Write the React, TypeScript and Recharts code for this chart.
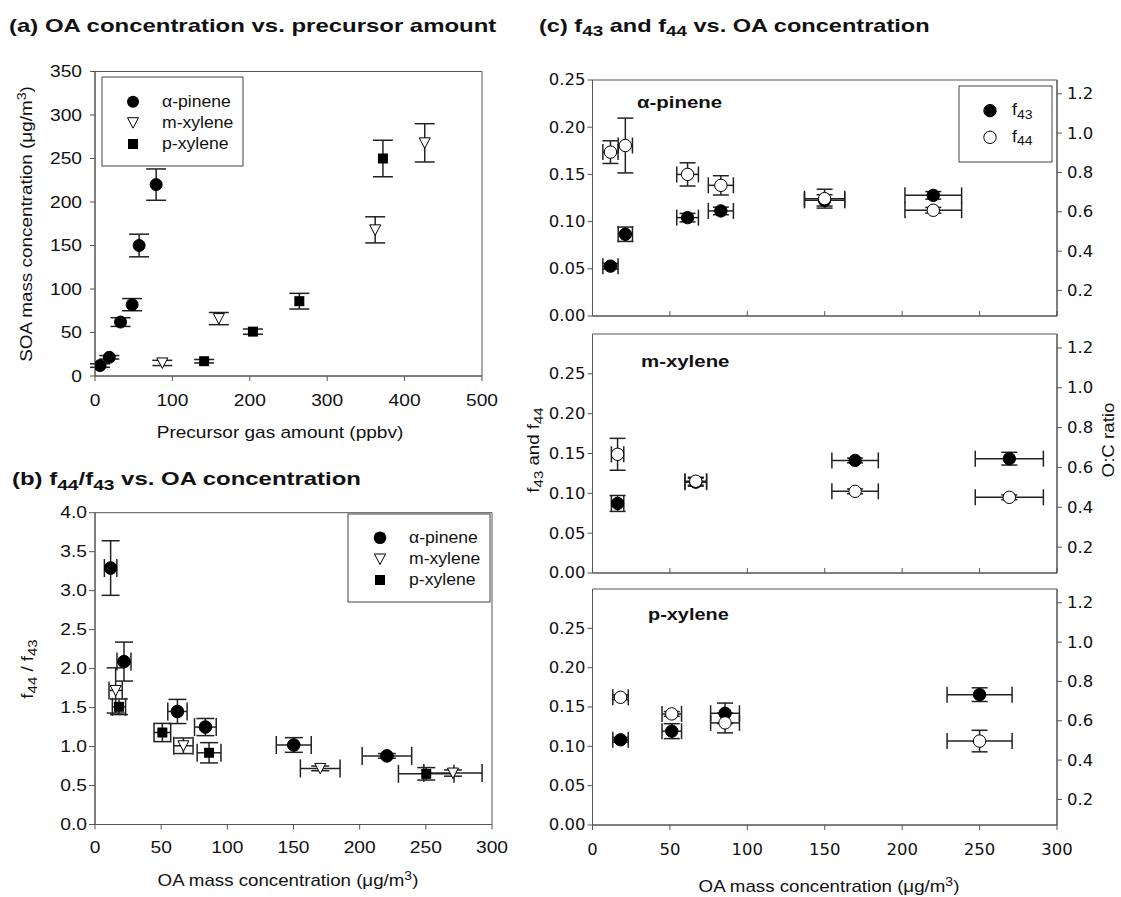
import React from 'react';
import { ScatterChart, Scatter, XAxis, YAxis, ErrorBar, ReferenceArea } from 'recharts';

const FONT = '"Liberation Sans", Arial, Helvetica, sans-serif';
const FONT_C = '"DejaVu Sans", Verdana, sans-serif';
const AXIS = '#555';
const INK = '#111';

// ---------- Panel (a): OA concentration vs precursor amount ----------
const aPineneX = [6.5, 18.5, 33, 48, 57, 79];
const aPineneY = [12, 21.5, 62, 82, 150, 220];
const aPineneErr = [2, 2, 5, 7, 13, 18];
const mXyleneX = [87, 160, 362, 426];
const mXyleneY = [15, 66, 168, 268];
const mXyleneErr = [3, 7, 15, 22];
const pXyleneX = [141, 204, 264, 372];
const pXyleneY = [17, 51, 86, 250];
const pXyleneErr = [2, 3, 9, 21];
const aXTicks = [0, 100, 200, 300, 400, 500];
const aYTicks = [0, 50, 100, 150, 200, 250, 300, 350];

// ---------- Panel (b): f44/f43 vs OA concentration ----------
const bPineneX = [11.8, 21.9, 62.3, 83.4, 150.2, 220.6];
const bPineneY = [3.29, 2.09, 1.45, 1.25, 1.02, 0.88];
const bPineneEx = [4.7, 5.3, 7.3, 8.2, 13.2, 18.7];
const bPineneEy = [0.35, 0.25, 0.155, 0.11, 0.094, 0.03];
const bMXyleneX = [15.6, 66.8, 170.2, 270.5];
const bMXyleneY = [1.72, 1.01, 0.72, 0.66];
const bMXyleneEx = [5, 7.3, 15, 22];
const bMXyleneEy = [0.29, 0.1, 0.03, 0.04];
const bPXyleneX = [18.1, 50.9, 86.2, 250.3];
const bPXyleneY = [1.51, 1.18, 0.92, 0.65];
const bPXyleneEx = [5, 6.3, 9, 21];
const bPXyleneEy = [0.1, 0.117, 0.13, 0.08];
const bXTicks = [0, 50, 100, 150, 200, 250, 300];
const bYTicks = [0, 0.5, 1, 1.5, 2, 2.5, 3, 3.5, 4];

// ---------- Panel (c): f43 and f44 vs OA concentration ----------
const cPineneX = [11.6, 21.2, 61.4, 82.9, 149.9, 220.1];
const cPineneEx = [4.9, 4.6, 7, 8.1, 13, 18.3];
const cPineneF43 = [0.0528, 0.0866, 0.1042, 0.1113, 0.1225, 0.1278];
const cPineneF43Err = [0.003, 0.0076, 0.0045, 0.004, 0.006, 0.004];
const cPineneF44 = [0.1736, 0.1806, 0.15, 0.1384, 0.1243, 0.112];
const cPineneF44Err = [0.012, 0.029, 0.0123, 0.0102, 0.01, 0.003];

const cMXyleneX = [16.2, 66.7, 169.6, 269.2];
const cMXyleneEx = [4, 7, 15, 22];
const cMXyleneF43 = [0.0873, 0.114, 0.1413, 0.1435];
const cMXyleneF43Err = [0.01, 0.005, 0.003, 0.008];
const cMXyleneF44 = [0.149, 0.1152, 0.1025, 0.095];
const cMXyleneF44Err = [0.02, 0.005, 0.003, 0.003];

const cPXyleneX = [18.1, 51.2, 85.6, 250];
const cPXyleneEx = [5, 6.3, 9.3, 21];
const cPXyleneF43 = [0.1083, 0.1193, 0.142, 0.1657];
const cPXyleneF43Err = [0.003, 0.0095, 0.013, 0.0087];
const cPXyleneF44 = [0.1623, 0.1412, 0.1298, 0.1067];
const cPXyleneF44Err = [0.003, 0.003, 0.0127, 0.0137];

const cXTicks = [0, 50, 100, 150, 200, 250, 300];
const cYTicks = [0, 0.05, 0.1, 0.15, 0.2, 0.25];
const ocTicks = [0.2, 0.4, 0.6, 0.8, 1.0, 1.2];

const rows = (x: number[], y: number[], ey: number[], ex?: number[]) =>
  x.map((v, i) => ({ x: v, y: y[i], ey: ey[i], ex: ex ? ex[i] : 0 }));

// ---------- marker shapes ----------
const Dot = (r: number, fill: string) => (p: any) => (
  <circle cx={p.cx} cy={p.cy} r={r} fill={fill} stroke="#000" strokeWidth={1} />
);
const Tri = (p: any) => (
  <polygon
    points={`${p.cx - 5.5},${p.cy - 5} ${p.cx + 5.5},${p.cy - 5} ${p.cx},${p.cy + 5.5}`}
    fill="#fff"
    stroke="#000"
    strokeWidth={1}
  />
);
const Sq = (p: any) => <rect x={p.cx - 5} y={p.cy - 5} width={10} height={10} fill="#000" />;

// ---------- tick renderer ----------
const mkTick = (fs: number, sx: number, dy: number, digits: number, family = FONT) => (props: any) => {
  const { x, y, payload, textAnchor } = props;
  return (
    <text
      transform={`translate(${x},${y}) scale(${sx},1)`}
      x={0}
      y={0}
      dy={dy}
      textAnchor={textAnchor}
      fontSize={fs}
      fontFamily={family}
      fill={INK}
    >
      {Number(payload.value).toFixed(digits)}
    </text>
  );
};
const noTick = () => <g />;

// ---------- HTML text helper ----------
const Sub = ({ children }: any) => (
  <span style={{ fontSize: '0.8em', position: 'relative', top: '0.3em' }}>{children}</span>
);
const Sup = ({ children }: any) => (
  <span style={{ fontSize: '0.75em', position: 'relative', top: '-0.45em' }}>{children}</span>
);

function Txt({ x, y, children, fs = 17, bold = false, anchor = 'middle', rotate = false, sx = 1.12 }: any) {
  const tx = anchor === 'start' ? '0' : anchor === 'end' ? '-100%' : '-50%';
  const origin = anchor === 'start' ? 'left center' : anchor === 'end' ? 'right center' : 'center';
  const transform = rotate
    ? `translate(-50%,-50%) rotate(-90deg) scaleX(${sx})`
    : `translate(${tx},-50%) scaleX(${sx})`;
  return (
    <div
      style={{
        position: 'absolute',
        left: x,
        top: y,
        whiteSpace: 'nowrap',
        fontFamily: FONT,
        fontSize: fs,
        fontWeight: bold ? 'bold' : 'normal',
        lineHeight: 1,
        transform,
        transformOrigin: rotate ? 'center' : origin,
        color: INK,
      }}
    >
      {children}
    </div>
  );
}

const EB = '#222';

function SubPanel({ top, height, mt, plotH, domainTop, f43, f44, showX }: any) {
  return (
    <div style={{ position: 'absolute', left: 500, top }}>
      <ScatterChart width={621} height={height} margin={{ top: mt, right: 0, bottom: 0, left: 0 }}>
        {showX ? (
          <XAxis
            type="number"
            dataKey="x"
            domain={[0, 300]}
            ticks={cXTicks}
            interval={0}
            allowDataOverflow
            height={height - mt - plotH}
            stroke={AXIS}
            tickSize={5}
            tickMargin={0}
            tick={mkTick(15, 1.1, 25.4, 0, FONT_C)}
          />
        ) : (
          <XAxis
            type="number"
            dataKey="x"
            domain={[0, 300]}
            ticks={cXTicks}
            interval={0}
            allowDataOverflow
            height={height - mt - plotH}
            stroke={AXIS}
            tickSize={-5}
            tick={noTick}
          />
        )}
        <YAxis
          yAxisId="l"
          type="number"
          dataKey="y"
          domain={[0, domainTop]}
          ticks={cYTicks}
          interval={0}
          allowDataOverflow
          width={92.5}
          stroke={AXIS}
          tickSize={5}
          tickMargin={2}
          tick={mkTick(15, 1.1, 5.4, 2, FONT_C)}
        />
        <YAxis
          yAxisId="r"
          orientation="right"
          type="number"
          domain={[0.07, 1.27]}
          ticks={ocTicks}
          interval={0}
          allowDataOverflow
          width={64}
          stroke={AXIS}
          tickSize={5}
          tickMargin={5}
          tick={mkTick(15, 1.1, 5.4, 1, FONT_C)}
        />
        <ReferenceArea yAxisId="l" x1={0} x2={300} y1={0} y2={domainTop} fill="none" stroke={AXIS} strokeWidth={1} ifOverflow="visible" />
        <Scatter yAxisId="l" data={f43} shape={Dot(6.2, '#000')} isAnimationActive={false}>
          <ErrorBar dataKey="ex" direction="x" width={8} stroke={EB} />
          <ErrorBar dataKey="ey" direction="y" width={8} stroke={EB} />
        </Scatter>
        <Scatter yAxisId="l" data={f44} shape={Dot(6.2, '#fff')} isAnimationActive={false}>
          <ErrorBar dataKey="ex" direction="x" width={8} stroke={EB} />
          <ErrorBar dataKey="ey" direction="y" width={8} stroke={EB} />
        </Scatter>
      </ScatterChart>
    </div>
  );
}

export default function App() {
  const aP = rows(aPineneX, aPineneY, aPineneErr);
  const aM = rows(mXyleneX, mXyleneY, mXyleneErr);
  const aX = rows(pXyleneX, pXyleneY, pXyleneErr);
  const bP = rows(bPineneX, bPineneY, bPineneEy, bPineneEx);
  const bM = rows(bMXyleneX, bMXyleneY, bMXyleneEy, bMXyleneEx);
  const bX = rows(bPXyleneX, bPXyleneY, bPXyleneEy, bPXyleneEx);
  const c1a = rows(cPineneX, cPineneF43, cPineneF43Err, cPineneEx);
  const c1b = rows(cPineneX, cPineneF44, cPineneF44Err, cPineneEx);
  const c2a = rows(cMXyleneX, cMXyleneF43, cMXyleneF43Err, cMXyleneEx);
  const c2b = rows(cMXyleneX, cMXyleneF44, cMXyleneF44Err, cMXyleneEx);
  const c3a = rows(cPXyleneX, cPXyleneF43, cPXyleneF43Err, cPXyleneEx);
  const c3b = rows(cPXyleneX, cPXyleneF44, cPXyleneF44Err, cPXyleneEx);

  return (
    <div style={{ position: 'absolute', left: 0, top: 0, width: 1121, height: 897, background: '#fff', overflow: 'hidden' }}>
      {/* Panel (a) */}
      <div style={{ position: 'absolute', left: 0, top: 0 }}>
        <ScatterChart width={500} height={420} margin={{ top: 71.5, right: 18, bottom: 0, left: 0 }}>
          <XAxis type="number" dataKey="x" domain={[0, 500]} ticks={aXTicks} interval={0} allowDataOverflow height={44} stroke={AXIS} tickSize={5} tickMargin={0} tick={mkTick(16, 1.2, 24.7, 0)} />
          <YAxis type="number" dataKey="y" domain={[0, 350]} ticks={aYTicks} interval={0} allowDataOverflow width={95} stroke={AXIS} tickSize={5} tickMargin={8} tick={mkTick(16, 1.2, 5.7, 0)} />
          <ReferenceArea x1={0} x2={500} y1={0} y2={350} fill="none" stroke={AXIS} strokeWidth={1} ifOverflow="visible" />
          <Scatter data={aP} shape={Dot(6, '#000')} isAnimationActive={false}>
            <ErrorBar dataKey="ey" direction="y" width={10} stroke={EB} />
          </Scatter>
          <Scatter data={aM} shape={Tri} isAnimationActive={false}>
            <ErrorBar dataKey="ey" direction="y" width={10} stroke={EB} />
          </Scatter>
          <Scatter data={aX} shape={Sq} isAnimationActive={false}>
            <ErrorBar dataKey="ey" direction="y" width={10} stroke={EB} />
          </Scatter>
        </ScatterChart>
      </div>

      {/* Panel (b) */}
      <div style={{ position: 'absolute', left: 0, top: 440 }}>
        <ScatterChart width={510} height={420} margin={{ top: 72.7, right: 18, bottom: 0, left: 0 }}>
          <XAxis type="number" dataKey="x" domain={[0, 300]} ticks={bXTicks} interval={0} allowDataOverflow height={35.5} stroke={AXIS} tickSize={5} tickMargin={0} tick={mkTick(16, 1.2, 23.2, 0)} />
          <YAxis type="number" dataKey="y" domain={[0, 4]} ticks={bYTicks} interval={0} allowDataOverflow width={95} stroke={AXIS} tickSize={6} tickMargin={2} tick={mkTick(16, 1.2, 5.7, 1)} />
          <ReferenceArea x1={0} x2={300} y1={0} y2={4} fill="none" stroke={AXIS} strokeWidth={1} ifOverflow="visible" />
          <Scatter data={bP} shape={Dot(6.3, '#000')} isAnimationActive={false}>
            <ErrorBar dataKey="ex" direction="x" width={9} stroke={EB} />
            <ErrorBar dataKey="ey" direction="y" width={9} stroke={EB} />
          </Scatter>
          <Scatter data={bM} shape={Tri} isAnimationActive={false}>
            <ErrorBar dataKey="ex" direction="x" width={9} stroke={EB} />
            <ErrorBar dataKey="ey" direction="y" width={9} stroke={EB} />
          </Scatter>
          <Scatter data={bX} shape={Sq} isAnimationActive={false}>
            <ErrorBar dataKey="ex" direction="x" width={9} stroke={EB} />
            <ErrorBar dataKey="ey" direction="y" width={9} stroke={EB} />
          </Scatter>
        </ScatterChart>
      </div>

      {/* Panel (c) */}
      <SubPanel top={0} height={330} mt={80} plotH={236} domainTop={0.25} f43={c1a} f44={c1b} showX={false} />
      <SubPanel top={320} height={270} mt={14} plotH={239} domainTop={0.3} f43={c2a} f44={c2b} showX={false} />
      <SubPanel top={580} height={300} mt={9} plotH={236} domainTop={0.3} f43={c3a} f44={c3b} showX={true} />

      {/* legends: boxes and markers */}
      <svg width={1121} height={897} style={{ position: 'absolute', left: 0, top: 0, pointerEvents: 'none' }}>
        <rect x={102} y={77} width={141} height={89} fill="#fff" stroke="#444" strokeWidth={1} />
        <circle cx={133} cy={101.7} r={6} fill="#000" />
        <polygon points={`${127.5},${117.7} ${138.5},${117.7} ${133},${128.2}`} fill="#fff" stroke="#000" />
        <rect x={128} y={139} width={10} height={10} fill="#000" />

        <rect x={348} y={514} width={142} height={88} fill="#fff" stroke="#444" strokeWidth={1} />
        <circle cx={380} cy={537.7} r={6.3} fill="#000" />
        <polygon points={`${374.5},${554} ${385.5},${554} ${380},${564.5}`} fill="#fff" stroke="#000" />
        <rect x={375} y={575} width={10} height={10} fill="#000" />

        <rect x={959} y={86} width={93} height={76} fill="#fff" stroke="#444" strokeWidth={1} />
        <circle cx={990} cy={110.7} r={6.2} fill="#000" stroke="#000" />
        <circle cx={990} cy={137.3} r={6.2} fill="#fff" stroke="#000" />
      </svg>

      {/* titles */}
      <Txt x={8.6} y={24.5} fs={19} bold anchor="start" sx={1.26}>(a) OA concentration vs. precursor amount</Txt>
      <Txt x={12} y={478} fs={19} bold anchor="start" sx={1.26}>(b) f<Sub>44</Sub>/f<Sub>43</Sub> vs. OA concentration</Txt>
      <Txt x={539} y={24.5} fs={19} bold anchor="start" sx={1.24}>(c) f<Sub>43</Sub> and f<Sub>44</Sub> vs. OA concentration</Txt>

      {/* axis titles */}
      <Txt x={26} y={224} fs={17} rotate sx={1.11}>SOA mass concentration (μg/m<Sup>3</Sup>)</Txt>
      <Txt x={280} y={432} fs={17} sx={1.12}>Precursor gas amount (ppbv)</Txt>
      <Txt x={27} y={669} fs={17} rotate sx={1.1}>f<Sub>44</Sub> / f<Sub>43</Sub></Txt>
      <Txt x={288} y={880} fs={17} sx={1.1}>OA mass concentration (μg/m<Sup>3</Sup>)</Txt>
      <Txt x={829} y={886} fs={17} sx={1.1}>OA mass concentration (μg/m<Sup>3</Sup>)</Txt>
      <Txt x={533} y={450} fs={17} rotate sx={1.1}>f<Sub>43</Sub> and f<Sub>44</Sub></Txt>
      <Txt x={1108} y={440} fs={17} rotate sx={1.1}>O:C ratio</Txt>

      {/* legend texts */}
      <Txt x={162} y={101.7} fs={16} anchor="start" sx={1.1}>α-pinene</Txt>
      <Txt x={162} y={122.7} fs={16} anchor="start" sx={1.1}>m-xylene</Txt>
      <Txt x={162} y={144} fs={16} anchor="start" sx={1.1}>p-xylene</Txt>
      <Txt x={409} y={537.7} fs={16} anchor="start" sx={1.1}>α-pinene</Txt>
      <Txt x={409} y={559} fs={16} anchor="start" sx={1.1}>m-xylene</Txt>
      <Txt x={409} y={580} fs={16} anchor="start" sx={1.1}>p-xylene</Txt>
      <Txt x={1011.5} y={110} fs={16} anchor="start" sx={1.1}>f<Sub>43</Sub></Txt>
      <Txt x={1011.5} y={136.5} fs={16} anchor="start" sx={1.1}>f<Sub>44</Sub></Txt>

      {/* in-panel series names */}
      <Txt x={637} y={101.7} fs={17} bold anchor="start" sx={1.2}>α-pinene</Txt>
      <Txt x={641} y={361} fs={17} bold anchor="start" sx={1.2}>m-xylene</Txt>
      <Txt x={648} y={614} fs={17} bold anchor="start" sx={1.17}>p-xylene</Txt>
    </div>
  );
}
